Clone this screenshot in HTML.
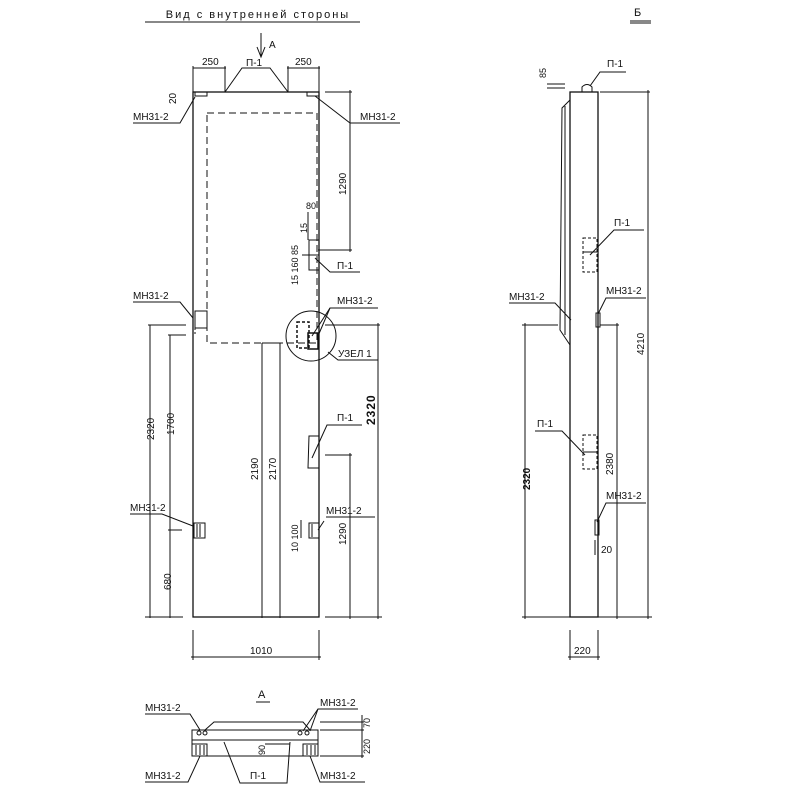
<!DOCTYPE html>
<html><head><meta charset="utf-8"><style>
html,body{margin:0;padding:0;background:#fff;width:800px;height:800px;overflow:hidden}
svg{display:block}
text{font-family:"Liberation Sans",sans-serif;font-size:10px;fill:#111}
</style></head><body>
<svg width="800" height="800" viewBox="0 0 800 800" stroke="#111" fill="none" stroke-width="1">
<!-- title -->
<text x="258" y="18" text-anchor="middle" stroke="none" style="font-size:11px;letter-spacing:2px">Вид с внутренней стороны</text>
<line x1="145" y1="22" x2="360" y2="22"/>
<!-- arrow A -->
<line x1="261" y1="33" x2="261" y2="57"/>
<path d="M257,47 L261,57 L265,47"/>
<text x="269" y="48" stroke="none">A</text>
<!-- main panel -->
<rect x="193" y="92" width="126" height="525" stroke-width="1.3"/>
<rect x="207" y="113" width="110" height="230" stroke-dasharray="7,4"/>
<!-- top P-1 -->
<path d="M225,92 L242,68 L270,68 L288,92"/>
<text x="246" y="66" stroke="none">П-1</text>
<line x1="193" y1="92" x2="193" y2="66"/><line x1="225" y1="92" x2="225" y2="66"/>
<line x1="193" y1="68" x2="226" y2="68"/>
<text x="202" y="65" stroke="none">250</text>
<line x1="288" y1="92" x2="288" y2="66"/><line x1="319" y1="92" x2="319" y2="66"/>
<line x1="287" y1="68" x2="320" y2="68"/>
<text x="295" y="65" stroke="none">250</text>
<text x="0" y="0" stroke="none" transform="translate(176,104) rotate(-90)">20</text>
<!-- top anchors -->
<rect x="195" y="92" width="12" height="4"/><rect x="307" y="92" width="12" height="4"/>
<text x="133" y="120" stroke="none">МН31-2</text><polyline points="133,123 180,123 195,97"/>
<text x="360" y="120" stroke="none">МН31-2</text><polyline points="400,123 350,123 315,96"/>
<!-- 1290 top right -->
<line x1="325" y1="92" x2="352" y2="92"/><line x1="318" y1="250" x2="352" y2="250"/>
<line x1="350" y1="90" x2="350" y2="252"/>
<text x="0" y="0" stroke="none" transform="translate(346,195) rotate(-90)">1290</text>
<!-- middle P-1 -->
<path d="M319,240 L309,240 L309,270 L319,270"/>
<line x1="302" y1="255" x2="319" y2="255"/>
<text x="306" y="209" stroke="none" style="font-size:9px">80</text>
<line x1="308" y1="212" x2="308" y2="240"/>
<text x="0" y="0" stroke="none" transform="translate(307,233) rotate(-90)" style="font-size:9px">15</text>
<text x="0" y="0" stroke="none" transform="translate(298,285) rotate(-90)" style="font-size:9px">15 160 85</text>
<polyline points="315,258 330,272 360,272"/>
<text x="337" y="269" stroke="none">П-1</text>
<!-- left mid anchor -->
<rect x="195" y="311" width="12" height="17"/>
<line x1="195" y1="328" x2="195" y2="336" stroke-dasharray="2,2"/>
<text x="133" y="299" stroke="none">МН31-2</text><polyline points="133,302 180,302 193,318"/>
<!-- node circle -->
<circle cx="311" cy="336" r="25"/>
<rect x="297" y="322" width="12" height="26" stroke-dasharray="3,2" stroke-width="1.5"/>
<rect x="308" y="333" width="10" height="16" stroke-width="1.5"/>
<text x="337" y="304" stroke="none">МН31-2</text>
<polyline points="378,308 330,308 312,336"/><line x1="330" y1="308" x2="318" y2="336"/>
<polyline points="328,352 338,360 378,360"/>
<text x="338" y="357" stroke="none">УЗЕЛ 1</text>
<!-- left dims -->
<line x1="150" y1="325" x2="150" y2="618"/><line x1="148" y1="325" x2="186" y2="325"/>
<line x1="170" y1="335" x2="170" y2="618"/><line x1="168" y1="335" x2="186" y2="335"/>
<line x1="168" y1="530" x2="182" y2="530"/>
<line x1="145" y1="617" x2="183" y2="617"/>
<text x="0" y="0" stroke="none" transform="translate(154,440) rotate(-90)">2320</text>
<text x="0" y="0" stroke="none" transform="translate(174,435) rotate(-90)">1700</text>
<text x="0" y="0" stroke="none" transform="translate(171,590) rotate(-90)">680</text>
<!-- center dims -->
<line x1="262" y1="343" x2="262" y2="618"/><line x1="280" y1="343" x2="280" y2="618"/>
<line x1="262" y1="343" x2="280" y2="343"/>
<text x="0" y="0" stroke="none" transform="translate(258,480) rotate(-90)">2190</text>
<text x="0" y="0" stroke="none" transform="translate(276,480) rotate(-90)">2170</text>
<!-- right dims -->
<line x1="325" y1="325" x2="380" y2="325"/><line x1="378" y1="323" x2="378" y2="619"/>
<text x="0" y="0" stroke="none" transform="translate(375,425) rotate(-90)" style="font-size:12px;font-weight:bold;letter-spacing:1px">2320</text>
<line x1="325" y1="455" x2="352" y2="455"/><line x1="350" y1="453" x2="350" y2="619"/>
<text x="0" y="0" stroke="none" transform="translate(346,545) rotate(-90)">1290</text>
<line x1="325" y1="617" x2="382" y2="617"/>
<!-- lower P-1 -->
<path d="M319,436 L309,436 L308,468 L319,468"/>
<polyline points="312,458 327,425 362,425"/>
<text x="337" y="421" stroke="none">П-1</text>
<!-- lower anchors -->
<rect x="194" y="523" width="11" height="15"/>
<line x1="197" y1="524" x2="197" y2="537"/><line x1="200" y1="524" x2="200" y2="537"/>
<text x="130" y="511" stroke="none">МН31-2</text><polyline points="130,514 162,514 193,526"/>
<rect x="309" y="523" width="10" height="15"/>
<line x1="312" y1="524" x2="312" y2="537"/>
<text x="326" y="514" stroke="none">МН31-2</text><line x1="326" y1="517" x2="375" y2="517"/>
<line x1="318" y1="530" x2="324" y2="521"/>
<text x="0" y="0" stroke="none" transform="translate(298,552) rotate(-90)" style="font-size:9px">10 100</text>
<line x1="301" y1="520" x2="301" y2="538"/>
<!-- 1010 -->
<line x1="193" y1="630" x2="193" y2="660"/><line x1="319" y1="630" x2="319" y2="660"/>
<line x1="191" y1="657" x2="321" y2="657"/>
<text x="250" y="654" stroke="none">1010</text>

<!-- side view -->
<text x="634" y="16" stroke="none" style="font-size:11px">Б</text>
<line x1="630" y1="21" x2="651" y2="21"/><line x1="630" y1="23" x2="651" y2="23"/>
<rect x="570" y="92" width="28" height="525" stroke-width="1.3"/>
<path d="M582,92 L582,87 Q587,82 592,87 L592,92"/>
<polyline points="590,86 600,72 626,72"/><text x="607" y="67" stroke="none">П-1</text>
<polyline points="570,100 562,108 560,330 570,345"/>
<line x1="565" y1="106" x2="565" y2="335"/>
<text x="0" y="0" stroke="none" transform="translate(546,78) rotate(-90)" style="font-size:9px">85</text>
<line x1="547" y1="84" x2="565" y2="84"/><line x1="547" y1="88" x2="565" y2="88"/>
<line x1="600" y1="92" x2="650" y2="92"/><line x1="648" y1="90" x2="648" y2="619"/>
<text x="0" y="0" stroke="none" transform="translate(644,355) rotate(-90)">4210</text>
<rect x="583" y="238" width="14" height="34" stroke-dasharray="3,2"/>
<line x1="583" y1="252" x2="597" y2="252"/>
<polyline points="590,255 614,230 644,230"/><text x="614" y="226" stroke="none">П-1</text>
<rect x="596" y="313" width="4" height="14"/>
<polyline points="598,314 606,298 646,298"/><text x="606" y="294" stroke="none">МН31-2</text>
<text x="509" y="300" stroke="none">МН31-2</text>
<polyline points="509,303 555,303 571,320"/>
<line x1="615" y1="325" x2="618" y2="325"/><line x1="600" y1="325" x2="619" y2="325"/>
<line x1="617" y1="323" x2="617" y2="619"/>
<text x="0" y="0" stroke="none" transform="translate(613,475) rotate(-90)">2380</text>
<line x1="522" y1="325" x2="558" y2="325"/><line x1="525" y1="323" x2="525" y2="619"/>
<text x="0" y="0" stroke="none" transform="translate(530,490) rotate(-90)" style="font-weight:bold">2320</text>
<rect x="583" y="435" width="14" height="34" stroke-dasharray="3,2"/>
<line x1="583" y1="452" x2="597" y2="452"/>
<polyline points="535,431 562,431 585,455"/><text x="537" y="427" stroke="none">П-1</text>
<rect x="595" y="520" width="4" height="15"/>
<polyline points="597,522 606,503 646,503"/><text x="606" y="499" stroke="none">МН31-2</text>
<line x1="595" y1="540" x2="595" y2="555"/><text x="601" y="553" stroke="none">20</text>
<line x1="522" y1="617" x2="652" y2="617"/>
<line x1="570" y1="630" x2="570" y2="660"/><line x1="598" y1="630" x2="598" y2="660"/>
<line x1="568" y1="657" x2="600" y2="657"/>
<text x="574" y="654" stroke="none">220</text>

<!-- view A -->
<text x="258" y="698" stroke="none" style="font-size:11px">A</text>
<line x1="256" y1="702" x2="270" y2="702"/>
<path d="M192,730 L192,756 L318,756 L318,730 Z"/>
<polyline points="205,730 214,722 303,722 310,730"/>
<line x1="192" y1="740" x2="318" y2="740"/>
<path d="M224,742 L240,783 L287,783 L290,742"/>
<text x="250" y="779" stroke="none">П-1</text>
<rect x="192" y="744" width="15" height="12"/>
<line x1="196" y1="745" x2="196" y2="755"/><line x1="200" y1="745" x2="200" y2="755"/><line x1="204" y1="745" x2="204" y2="755"/>
<rect x="303" y="744" width="15" height="12"/>
<line x1="307" y1="745" x2="307" y2="755"/><line x1="311" y1="745" x2="311" y2="755"/><line x1="315" y1="745" x2="315" y2="755"/>
<circle cx="199" cy="733" r="2"/><circle cx="205" cy="733" r="2"/>
<circle cx="300" cy="733" r="2"/><circle cx="307" cy="733" r="2"/>
<text x="145" y="711" stroke="none">МН31-2</text><polyline points="145,714 190,714 200,730"/>
<text x="320" y="706" stroke="none">МН31-2</text>
<polyline points="358,709 318,709 303,731"/><line x1="318" y1="709" x2="310" y2="731"/>
<text x="145" y="779" stroke="none">МН31-2</text><polyline points="145,782 188,782 200,756"/>
<text x="320" y="779" stroke="none">МН31-2</text><polyline points="365,782 320,782 310,756"/>
<line x1="265" y1="744" x2="290" y2="744"/>
<text x="0" y="0" stroke="none" transform="translate(265,755) rotate(-90)" style="font-size:9px">90</text>
<line x1="320" y1="722" x2="364" y2="722"/><line x1="320" y1="730" x2="364" y2="730"/><line x1="320" y1="756" x2="364" y2="756"/>
<line x1="362" y1="715" x2="362" y2="758"/>
<text x="0" y="0" stroke="none" transform="translate(370,728) rotate(-90)" style="font-size:9px">70</text>
<text x="0" y="0" stroke="none" transform="translate(370,754) rotate(-90)" style="font-size:9px">220</text>
</svg>
</body></html>
